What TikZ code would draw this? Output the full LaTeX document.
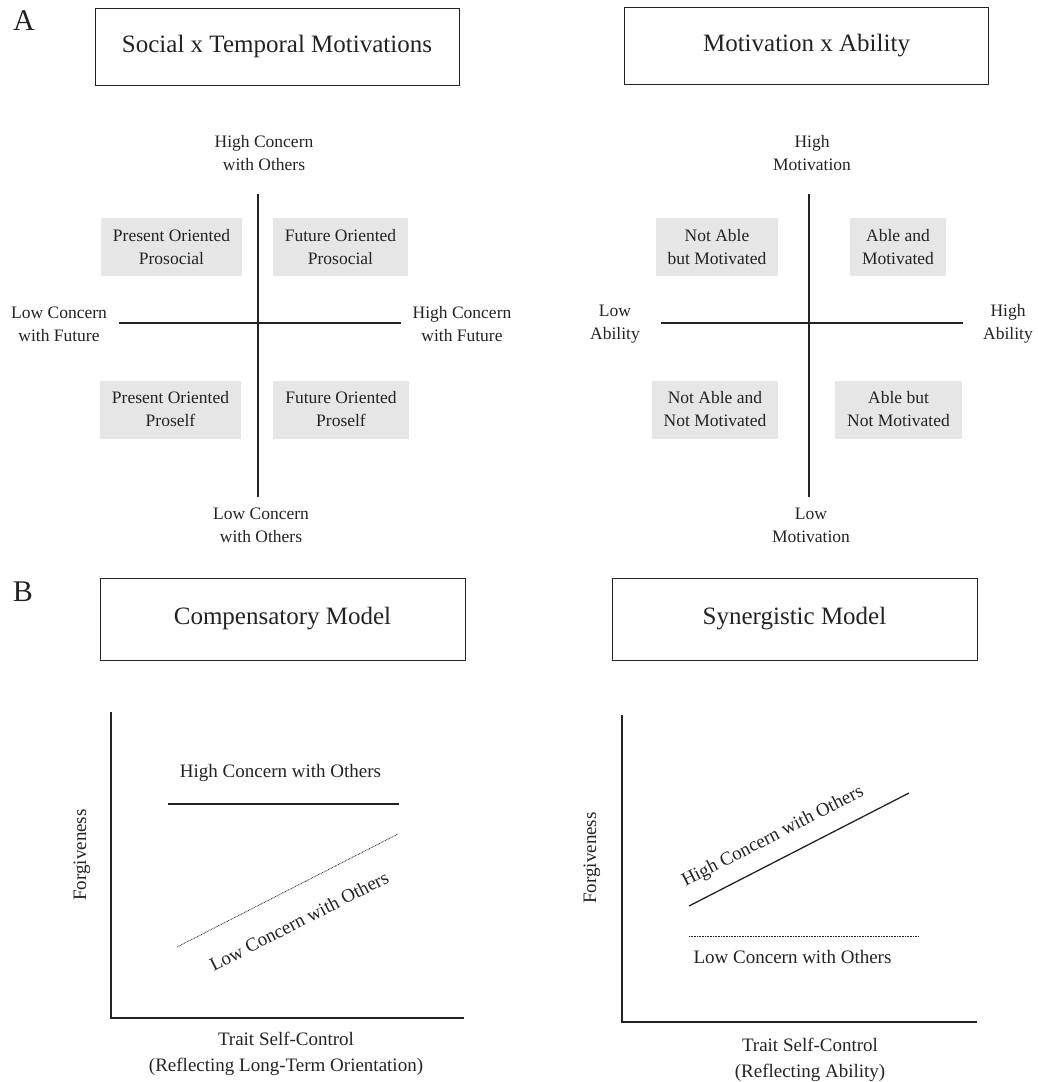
\documentclass[tikz,border=0pt]{standalone}
\usepackage{fontspec}
\setmainfont{Liberation Serif}
\definecolor{boxgray}{RGB}{230,230,230}
\definecolor{ink}{RGB}{35,35,35}
\begin{document}
\begin{tikzpicture}[x=1pt,y=-1pt,
  every node/.style={text=ink, inner sep=0pt},
  lbl/.style={font=\fontsize{17.5}{23}\selectfont, align=center},
  quad/.style={lbl, fill=boxgray, minimum height=58pt, inner xsep=12pt},
  titlebox/.style={draw=ink, line width=1pt, font=\fontsize{25}{30}\selectfont, minimum width=364pt, minimum height=77pt},
  panel/.style={font=\fontsize{30}{36}\selectfont},
  axlbl/.style={font=\fontsize{19}{26}\selectfont, align=center},
  axisline/.style={draw=ink, line width=2pt},
  qline/.style={draw=ink, line width=1.6pt},
  hiline/.style={draw=ink, line width=1.6pt},
  loline/.style={draw=ink, line width=0.8pt, dash pattern=on 0.8pt off 0.8pt}
]
\useasboundingbox (0,0) rectangle (1037,1082);

% ---------- Panel A ----------
\node[panel] (pA) at (24,21) {A};
\node[titlebox] (t1) at (277,46.5) {Social x Temporal Motivations};
\node[titlebox] (t2) at (806.5,46) {Motivation x Ability};

% left quadrant
\coordinate (lt) at (258,194);
\coordinate (lb) at (258,497);
\coordinate (ll) at (119,323);
\coordinate (lr) at (401,323);
\draw[qline] (lt) -- (lb);
\draw[qline] (ll) -- (lr);
\node[lbl] (hco) at (264,153) {High Concern\\with Others};
\node[lbl] (lco) at (261,525) {Low Concern\\with Others};
\node[lbl] (lcf) at (59,324) {Low Concern\\with Future};
\node[lbl] (hcf) at (462,324) {High Concern\\with Future};
\node[quad] (q1) at (171.5,247) {Present Oriented\\Prosocial};
\node[quad] (q2) at (340.5,247) {Future Oriented\\Prosocial};
\node[quad] (q3) at (170.5,409.5) {Present Oriented\\Proself};
\node[quad] (q4) at (341,409.5) {Future Oriented\\Proself};

% right quadrant
\coordinate (rt) at (809,194);
\coordinate (rb) at (809,497);
\coordinate (rl) at (661,323);
\coordinate (rr) at (963,323);
\draw[qline] (rt) -- (rb);
\draw[qline] (rl) -- (rr);
\node[lbl] (hm) at (812,153) {High\\Motivation};
\node[lbl] (lm) at (811,525) {Low\\Motivation};
\node[lbl] (la) at (615,324) {Low\\Ability};
\node[lbl] (ha) at (1008,324) {High\\Ability};
\node[quad] (r1) at (717,247) {Not Able\\but Motivated};
\node[quad] (r2) at (898,247) {Able and\\Motivated};
\node[quad] (r3) at (715,409.5) {Not Able and\\Not Motivated};
\node[quad] (r4) at (898.5,409.5) {Able but\\Not Motivated};

% ---------- Panel B ----------
\node[panel] (pB) at (23,592) {B};
\node[titlebox, minimum width=365pt, minimum height=82pt] (t3) at (282.5,619) {Compensatory Model};
\node[titlebox, minimum width=365pt, minimum height=82pt] (t4) at (794.5,619) {Synergistic Model};

% left chart
\coordinate (c1o) at (111,1018);
\coordinate (c1y) at (111,712);
\coordinate (c1x) at (464,1018);
\draw[axisline] (c1y) -- (c1o) -- (c1x);
\coordinate (c1h1) at (168,804);
\coordinate (c1h2) at (399,804);
\draw[hiline] (c1h1) -- (c1h2);
\coordinate (c1l1) at (177,947);
\coordinate (c1l2) at (398,834);
\draw[loline] (c1l1) -- (c1l2);
\node[axlbl] (c1hl) at (280.5,773) {High Concern with Others};
\node[axlbl, rotate=27] (c1ll) at (299,921) {Low Concern with Others};
\node[axlbl, rotate=90] (c1yl) at (82,855) {Forgiveness};
\node[axlbl] (c1xl) at (286,1054) {Trait Self-Control\\(Reflecting Long-Term Orientation)};

% right chart
\coordinate (c2o) at (622,1022);
\coordinate (c2y) at (622,715);
\coordinate (c2x) at (977,1022);
\draw[axisline] (c2y) -- (c2o) -- (c2x);
\coordinate (c2h1) at (689,906);
\coordinate (c2h2) at (909,793);
\draw[hiline, line width=1.3pt] (c2h1) -- (c2h2);
\coordinate (c2l1) at (689,936);
\coordinate (c2l2) at (918,936);
\draw[loline] (c2l1) -- (c2l2);
\node[axlbl, rotate=27] (c2hl) at (773,837) {High Concern with Others};
\node[axlbl] (c2ll) at (792.5,957) {Low Concern with Others};
\node[axlbl, rotate=90] (c2yl) at (592,858) {Forgiveness};
\node[axlbl] (c2xl) at (810,1060) {Trait Self-Control\\(Reflecting Ability)};
\end{tikzpicture}
\end{document}
